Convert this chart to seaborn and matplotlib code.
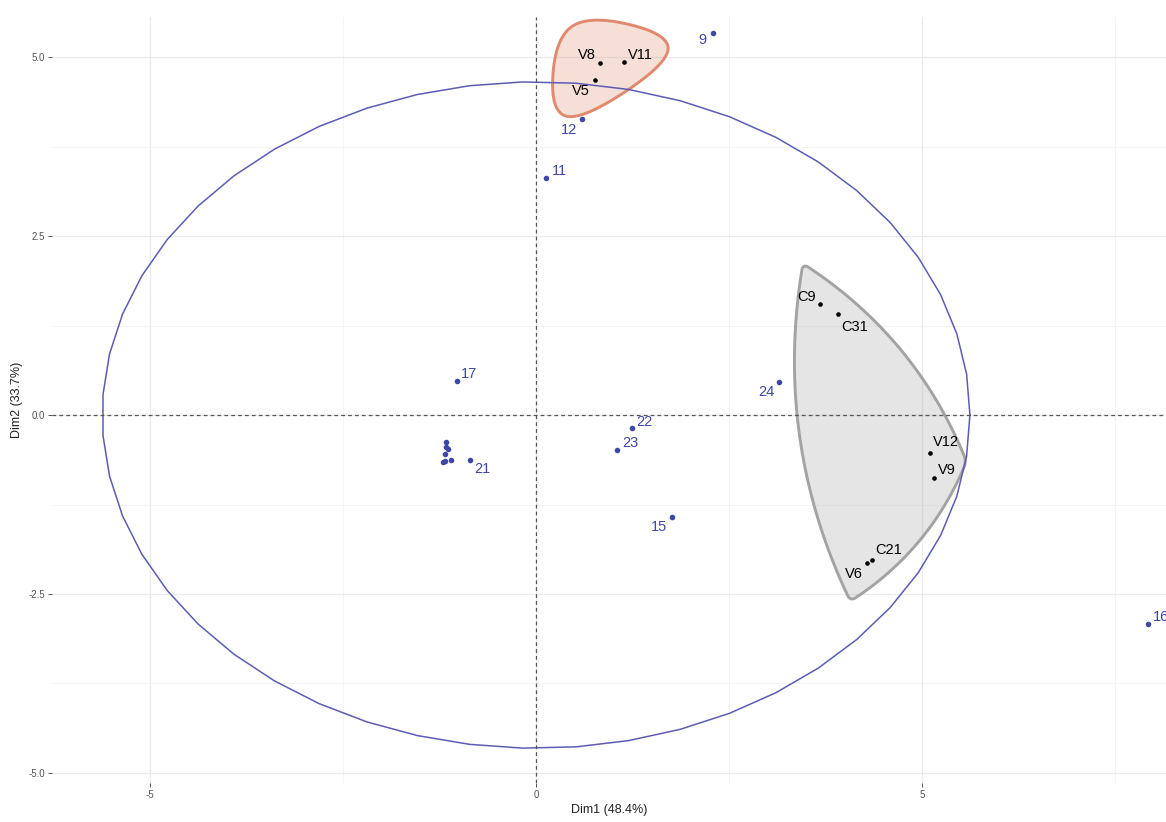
# PCA biplot: individuals, variables, encircled variable groups
import numpy as np
import pandas as pd
import matplotlib
matplotlib.use("Agg")
import matplotlib.pyplot as plt
import seaborn as sns

# ------------------------------------------------------------
# data
# ------------------------------------------------------------
ind_labels = ["9", "12", "11", "17", "21", "22", "23", "15", "24", "16",
              "", "", "", "", "", "", ""]
ind_x = [2.29, 0.60, 0.13, -1.02, -0.85, 1.24, 1.05, 1.76, 3.15, 7.93,
         -1.17, -1.16, -1.14, -1.18, -1.20, -1.18, -1.10]
ind_y = [5.34, 4.13, 3.31, 0.47, -0.63, -0.18, -0.49, -1.42, 0.46, -2.92,
         -0.38, -0.44, -0.48, -0.54, -0.66, -0.64, -0.63]

var_labels = ["V8", "V11", "V5", "C9", "C31", "V12", "V9", "V6", "C21"]
var_x = [0.83, 1.14, 0.76, 3.68, 3.91, 5.10, 5.16, 4.29, 4.35]
var_y = [4.92, 4.93, 4.68, 1.55, 1.41, -0.53, -0.88, -2.07, -2.03]
var_group = ["g1", "g1", "g1", "g2", "g2", "g2", "g2", "g2", "g2"]

ellipse_rx = 5.62
ellipse_ry = 4.655

x_title = "Dim1 (48.4%)"
y_title = "Dim2 (33.7%)"
x_breaks = [-5, 0, 5]
x_tick_labels = ["-5", "0", "5"]
y_breaks = [-5.0, -2.5, 0.0, 2.5, 5.0]
y_tick_labels = ["-5.0", "-2.5", "0.0", "2.5", "5.0"]

# label offsets (pixels, x right / y down) -- styling for the repelled labels
ind_offsets = [(-10, 7), (-13, 11), (13, -7), (12, -7), (12, 9), (13, -6),
               (13, -7), (-13, 10), (-13, 10), (13, -7)] + [(0, 0)] * 7
var_offsets = [(-13, -8), (16, -7), (-14, 11), (-14, -7), (17, 13),
               (16, -11), (12, -8), (-13, 11), (17, -10)]

ind = pd.DataFrame({"label": ind_labels, "x": ind_x, "y": ind_y})
var = pd.DataFrame({"label": var_labels, "x": var_x, "y": var_y, "group": var_group})

BLUE = "#3F47A6"
ELL = "#5C5CB5"
# outline style of each group (expand as share of panel height, shift in px, y up)
hull_style = {
    "g1": dict(fill="#E0896E", alpha=0.27, edge="#E0896E", method="xspline",
               expand=0.06, shift=(0, 0), bulge=0.0, smooth=1),
    "g2": dict(fill="#9A9A9A", alpha=0.25, edge="#A3A3A3", method="arcs",
               expand=0.058, shift=(-10, 4), bulge=0.08, smooth=13),
}


# ------------------------------------------------------------
# outlines around groups
# ------------------------------------------------------------
def g_blend(u, q):
    return u * (q + u * (2 * q + u * (8 - 12 * q + u * (14 * q - 11 + u * (4 - 5 * q)))))


def h_blend(u, q):
    u2 = u * u
    return u * (q + u * (2 * q + u2 * (-2 * q - u * q)))


def convex_hull(pts):
    order = sorted(range(len(pts)), key=lambda i: (pts[i][0], pts[i][1]))
    P = [tuple(pts[i]) for i in order]

    def cross(o, a, b):
        return (a[0] - o[0]) * (b[1] - o[1]) - (a[1] - o[1]) * (b[0] - o[0])

    lower, upper = [], []
    for p in P:
        while len(lower) >= 2 and cross(lower[-2], lower[-1], p) <= 0:
            lower.pop()
        lower.append(p)
    for p in reversed(P):
        while len(upper) >= 2 and cross(upper[-2], upper[-1], p) <= 0:
            upper.pop()
        upper.append(p)
    return np.array(lower[:-1] + upper[:-1])


def control_points(pts, expand_px, merge_px=30):
    hull = [p for p in convex_hull(pts)]
    # merge hull vertices that sit almost on top of each other
    while len(hull) > 3:
        n = len(hull)
        dist = [np.hypot(*(hull[i] - hull[(i + 1) % n])) for i in range(n)]
        i = int(np.argmin(dist))
        if dist[i] > merge_px:
            break
        j = (i + 1) % n
        hull[i] = (hull[i] + hull[j]) / 2
        hull.pop(j)
    hull = np.array(hull)
    n = len(hull)
    ctrl = []
    for k in range(n):
        a = hull[(k - 1) % n] - hull[k]
        b = hull[(k + 1) % n] - hull[k]
        bis = a / np.hypot(*a) + b / np.hypot(*b)
        bis = -bis / np.hypot(*bis)          # outward bisector of the corner
        ctrl.append(hull[k] + bis * expand_px)
    return np.array(ctrl)


def xspline(ctrl, q=1.0, steps=60):
    n = len(ctrl)
    t = np.linspace(0, 1, steps, endpoint=False)
    out = []
    for k in range(n):
        P = ctrl[[k % n, (k + 1) % n, (k + 2) % n, (k + 3) % n]]
        W = np.column_stack([h_blend(-t, q), g_blend(1 - t, q),
                             g_blend(t, q), h_blend(t - 1, q)])
        out.append((W @ P) / W.sum(axis=1)[:, None])
    return np.vstack(out)


def arcs(ctrl, bulge, smooth):
    c = ctrl.mean(axis=0)
    n = len(ctrl)
    out = []
    for k in range(n):
        S, E = ctrl[k], ctrl[(k + 1) % n]
        chord = E - S
        L = np.hypot(*chord)
        nrm = np.array([-chord[1], chord[0]]) / L
        mid = (S + E) / 2
        if np.dot(mid - c, nrm) < 0:
            nrm = -nrm
        Q = mid + 2 * bulge * L * nrm
        t = np.linspace(0, 1, int(L), endpoint=False)[:, None]
        out.append((1 - t) ** 2 * S + 2 * t * (1 - t) * Q + t ** 2 * E)
    curve = np.vstack(out)
    if smooth > 1:
        k = np.ones(smooth) / smooth
        pad = smooth
        ext = np.vstack([curve[-pad:], curve, curve[:pad]])
        curve = np.column_stack([np.convolve(ext[:, 0], k, "same"),
                                 np.convolve(ext[:, 1], k, "same")])[pad:-pad]
    return curve


# ------------------------------------------------------------
# figure
# ------------------------------------------------------------
sns.set_theme(style="white")
plt.rcParams["font.family"] = ["Liberation Sans", "DejaVu Sans"]

W_PX, H_PX = 1166, 822
fig = plt.figure(figsize=(W_PX / 100, H_PX / 100), dpi=100)
ax = fig.add_axes([52 / W_PX, 39 / H_PX, 1 - 52 / W_PX, 766 / H_PX])
ax.set_xlim(-6.27, 8.16)
ax.set_ylim(-5.14, 5.56)

for s in ax.spines.values():
    s.set_visible(False)
ax.set_xticks(x_breaks)
ax.set_xticklabels(x_tick_labels)
ax.set_yticks(y_breaks)
ax.set_yticklabels(y_tick_labels)
ax.set_xticks([-2.5, 2.5, 7.5], minor=True)
ax.set_yticks([-3.75, -1.25, 1.25, 3.75], minor=True)
ax.grid(which="major", color="#EBEBEB", lw=0.9)
ax.grid(which="minor", color="#F2F2F2", lw=0.6)
ax.set_axisbelow(True)
ax.tick_params(which="major", length=3, width=0.7, color="#555555",
               labelsize=7, labelcolor="#555555", pad=2,
               bottom=True, left=True)
ax.tick_params(which="minor", length=0)

# encircled groups
fig.canvas.draw()
for grp, sub in var.groupby("group"):
    st = hull_style[grp]
    disp = ax.transData.transform(np.column_stack([sub["x"], sub["y"]]))
    ctrl = control_points(disp, st["expand"] * ax.bbox.height) + np.array(st["shift"])
    if st["method"] == "xspline":
        curve = xspline(ctrl)
    else:
        curve = arcs(ctrl, st["bulge"], st["smooth"])
    curve = ax.transData.inverted().transform(curve)
    ax.fill(curve[:, 0], curve[:, 1], color=st["fill"], alpha=st["alpha"],
            lw=0, zorder=1.5)
    ax.fill(curve[:, 0], curve[:, 1], facecolor="none", edgecolor=st["edge"],
            lw=2.1, zorder=1.6)

# ellipse (51 segments)
theta = np.linspace(0, 2 * np.pi, 52)
ax.plot(ellipse_rx * np.cos(theta), ellipse_ry * np.sin(theta),
        color=ELL, lw=1.1, zorder=2)

ax.axhline(0, color="#555555", lw=0.9, ls=(0, (3, 2.5)), zorder=2.2)
ax.axvline(0, color="#555555", lw=0.9, ls=(0, (3, 2.5)), zorder=2.2)

sns.scatterplot(data=ind, x="x", y="y", color=BLUE, s=16, linewidth=0,
                ax=ax, zorder=4, legend=False)
sns.scatterplot(data=var, x="x", y="y", color="black", s=11, linewidth=0,
                ax=ax, zorder=4, legend=False)

for (lbl, x, y), (dx, dy) in zip(ind[["label", "x", "y"]].values, ind_offsets):
    if lbl:
        ax.annotate(lbl, (x, y), xytext=(dx * 0.72, -dy * 0.72),
                    textcoords="offset points", ha="center", va="center",
                    fontsize=10.5, color=BLUE, zorder=5, annotation_clip=False)
for (lbl, x, y), (dx, dy) in zip(var[["label", "x", "y"]].values, var_offsets):
    ax.annotate(lbl, (x, y), xytext=(dx * 0.72, -dy * 0.72),
                textcoords="offset points", ha="center", va="center",
                fontsize=10.5, color="black", zorder=5)

ax.set_xlabel(x_title, fontsize=9, color="#222222", labelpad=3)
ax.set_ylabel(y_title, fontsize=9, color="#222222", labelpad=4)

fig.savefig("out.png", dpi=100)
